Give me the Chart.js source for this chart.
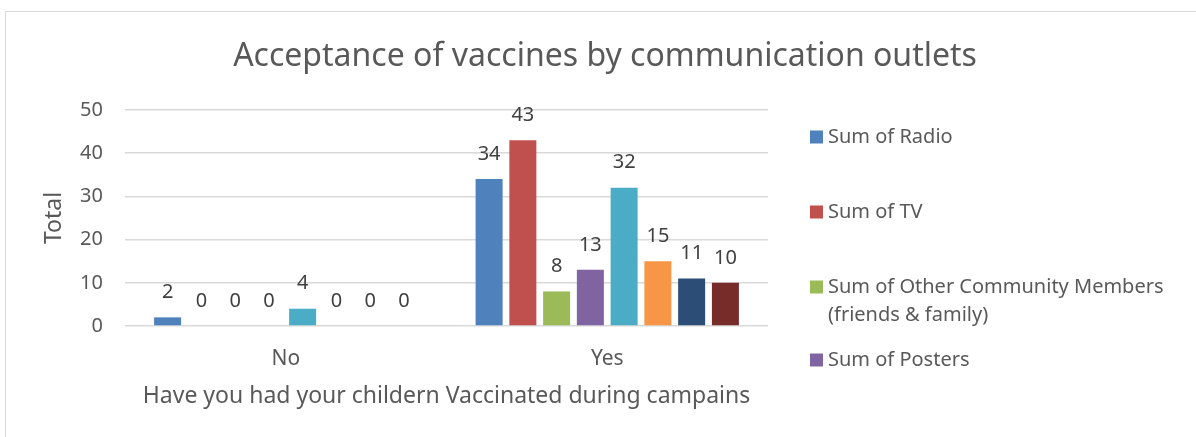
<!DOCTYPE html>
<html>
<head>
<meta charset="utf-8">
<script src="https://cdn.jsdelivr.net/npm/chart.js@4"></script>
<style>
  html, body { margin: 0; padding: 0; background: #fff; }
  #wrap { position: relative; width: 1196px; height: 437px; overflow: hidden; }
  #frame { position: absolute; left: 5px; top: 11px; width: 1300px; height: 500px; border: 1px solid #d9d9d9; }
  canvas { position: absolute; left: 0; top: 0; }
</style>
</head>
<body>
<div id="wrap">
  <div id="frame"></div>
  <canvas id="chart" width="1196" height="437"></canvas>
</div>
<script>
// categories and series
const categories = ['No', 'Yes'];
const seriesNames = [
    'Sum of Radio',
    'Sum of TV',
    ['Sum of Other Community Members', '(friends & family)'],
    'Sum of Posters',
    'Sum of Outlet 5',
    'Sum of Outlet 6',
    'Sum of Outlet 7',
    'Sum of Outlet 8'
];
const radio = [2, 34];
const tv = [0, 43];
const community = [0, 8];
const posters = [0, 13];
const outlet5 = [4, 32];
const outlet6 = [0, 15];
const outlet7 = [0, 11];
const outlet8 = [0, 10];
const yTicks = [0, 10, 20, 30, 40, 50];

const chartTitle = 'Acceptance of vaccines by communication outlets';
const xTitle = 'Have you had your childern Vaccinated during campains';
const yTitle = 'Total';

const colors = ['#4F81BD', '#C0504D', '#9BBB59', '#8064A2', '#4BACC6', '#F79646', '#2C4D75', '#772C2A'];
const FONT = "'Noto Sans', 'Open Sans', sans-serif";
const TEXT = '#595959';

// only the first four legend entries are visible in the original
const legendCount = 4;
const legendRows = [137, 212, 287, 360];

const seriesValues = [radio, tv, community, posters, outlet5, outlet6, outlet7, outlet8];

// value labels above each bar
const valueLabels = {
    id: 'valueLabels',
    afterDatasetsDraw(chart) {
        const ctx = chart.ctx;
        ctx.save();
        ctx.font = '20px ' + FONT;
        ctx.fillStyle = '#404040';
        ctx.textAlign = 'center';
        ctx.textBaseline = 'middle';
        chart.data.datasets.forEach((ds, i) => {
            chart.getDatasetMeta(i).data.forEach((bar, j) => {
                ctx.fillText(ds.data[j], bar.x, bar.y - 25);
            });
        });
        ctx.restore();
    }
};

// chart title centred on the frame, and the legend on the right
const decorations = {
    id: 'decorations',
    afterDraw(chart) {
        const ctx = chart.ctx;
        ctx.save();
        ctx.font = '32px ' + FONT;
        ctx.fillStyle = TEXT;
        ctx.textAlign = 'center';
        ctx.textBaseline = 'middle';
        ctx.fillText(chartTitle, 605, 57);

        ctx.textAlign = 'left';
        ctx.font = '20px ' + FONT;
        for (let i = 0; i < legendCount; i++) {
            const y = legendRows[i];
            ctx.fillStyle = colors[i];
            ctx.fillRect(810, y - 6.5, 13, 13);
            ctx.fillStyle = TEXT;
            const lines = Array.isArray(seriesNames[i]) ? seriesNames[i] : [seriesNames[i]];
            lines.forEach((line, k) => ctx.fillText(line, 828, y + k * 28));
        }
        ctx.restore();
    }
};

const ctx = document.getElementById('chart').getContext('2d');
new Chart(ctx, {
    type: 'bar',
    data: {
        labels: categories,
        datasets: seriesValues.map((vals, i) => ({
            label: Array.isArray(seriesNames[i]) ? seriesNames[i].join(' ') : seriesNames[i],
            data: vals,
            backgroundColor: colors[i],
            borderWidth: 0,
            categoryPercentage: 0.84,
            barPercentage: 0.8
        }))
    },
    options: {
        responsive: false,
        animation: false,
        layout: { padding: { left: 0, right: 428, top: 110, bottom: 0 } },
        plugins: {
            legend: { display: false },
            tooltip: { enabled: false },
            title: { display: false }
        },
        scales: {
            x: {
                grid: { display: false, drawTicks: false },
                border: { display: false },
                ticks: { color: TEXT, font: { family: FONT, size: 21 }, padding: 20 },
                title: {
                    display: true,
                    text: xTitle,
                    color: TEXT,
                    font: { family: FONT, size: 23 },
                    padding: { top: 0, bottom: 27 }
                },
                afterFit(scale) { scale.height = 111; }
            },
            y: {
                min: 0,
                max: 50,
                afterBuildTicks(scale) { scale.ticks = yTicks.map(v => ({ value: v })); },
                grid: { color: '#d9d9d9', lineWidth: 1.5, drawTicks: false },
                border: { display: false },
                ticks: { color: TEXT, font: { family: FONT, size: 20 }, padding: 22 },
                title: {
                    display: true,
                    text: yTitle,
                    color: TEXT,
                    font: { family: FONT, size: 23 },
                    padding: { top: 41, bottom: 0 }
                },
                afterFit(scale) { scale.width = 125; }
            }
        }
    },
    plugins: [valueLabels, decorations]
});
</script>
</body>
</html>
